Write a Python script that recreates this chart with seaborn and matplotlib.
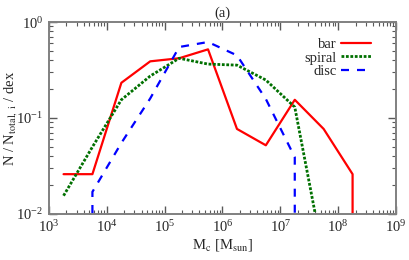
import matplotlib
matplotlib.use("Agg")
import matplotlib.pyplot as plt
import seaborn as sns
import pandas as pd
from matplotlib.ticker import LogLocator, NullFormatter

#---------- Data ----------
bar_mass = [1.78e3, 5.62e3, 1.78e4, 5.62e4, 1.78e5, 5.62e5, 1.78e6, 5.62e6, 1.78e7, 5.62e7, 1.78e8, 1.78e8]
bar_frac = [0.026, 0.026, 0.233, 0.39, 0.42, 0.52, 0.077, 0.052, 0.155, 0.077, 0.026, 1e-4]

spiral_mass = [1.78e3, 5.62e3, 1.78e4, 5.62e4, 1.78e5, 5.62e5, 1.78e6, 5.62e6, 1.78e7, 5.62e7]
spiral_frac = [0.0155, 0.05, 0.155, 0.274, 0.42, 0.365, 0.356, 0.249, 0.13, 0.0035]

disc_mass = [5.62e3, 5.62e3, 1.78e4, 5.62e4, 1.78e5, 5.62e5, 1.78e6, 5.62e6, 1.78e7, 1.78e7]
disc_frac = [1e-4, 0.017, 0.055, 0.16, 0.55, 0.62, 0.45, 0.158, 0.039, 1e-4]

#---------- Style ----------
sns.set_style("ticks")
plt.rcParams["font.family"] = ["Liberation Serif", "DejaVu Serif"]
plt.rcParams["mathtext.fontset"] = "stix"

fig = plt.figure(figsize=(4.09, 2.6), dpi=100)
ax = fig.add_axes([0.12, 0.177, 0.848, 0.738])

bar_df = pd.DataFrame({"mass": bar_mass, "frac": bar_frac})
spiral_df = pd.DataFrame({"mass": spiral_mass, "frac": spiral_frac})
disc_df = pd.DataFrame({"mass": disc_mass, "frac": disc_frac})

sns.lineplot(data=bar_df, x="mass", y="frac", ax=ax, color="red", lw=1.6,
             estimator=None, sort=False, label="bar")
sns.lineplot(data=spiral_df, x="mass", y="frac", ax=ax, color="#007000", lw=2.0,
             linestyle=(0, (1, 0.6)), estimator=None, sort=False, label="spiral")
sns.lineplot(data=disc_df, x="mass", y="frac", ax=ax, color="blue", lw=1.6,
             linestyle=(0, (3.6, 3.6)), estimator=None, sort=False, label="disc")

ax.set_xscale("log")
ax.set_yscale("log")
ax.set_xlim(1e3, 1e9)
ax.set_ylim(1e-2, 1)

ax.xaxis.set_major_locator(LogLocator(base=10, numticks=10))
ax.xaxis.set_minor_locator(LogLocator(base=10, subs=range(2, 10), numticks=20))
ax.yaxis.set_minor_locator(LogLocator(base=10, subs=range(2, 10), numticks=20))
ax.xaxis.set_minor_formatter(NullFormatter())
ax.yaxis.set_minor_formatter(NullFormatter())

ax.tick_params(which="both", direction="in", top=True, right=True, labelsize=10.5,
               color="0.35", pad=4)
ax.tick_params(which="major", length=6, width=1)
ax.tick_params(which="minor", length=3, width=0.8, labelbottom=False, labelleft=False)
for s in ax.spines.values():
    s.set_color("0.5")
    s.set_linewidth(1.4)

ax.set_title("(a)", fontsize=10.5, pad=4)
ax.set_xlabel(r"M$_\mathrm{c}$ [M$_\mathrm{sun}$]", fontsize=10.5, labelpad=1)
ax.set_ylabel(r"N / N$_\mathrm{total,\ i}$ / dex", fontsize=10.5, labelpad=0)
ax.yaxis.set_label_coords(-0.088, 0.5)

ax.legend(loc="upper right", frameon=False, markerfirst=False, fontsize=10.5,
          handlelength=2.0, handletextpad=0.3, labelspacing=0.0,
          bbox_to_anchor=(0.965, 0.985))

plt.savefig("out.png", dpi=100)
